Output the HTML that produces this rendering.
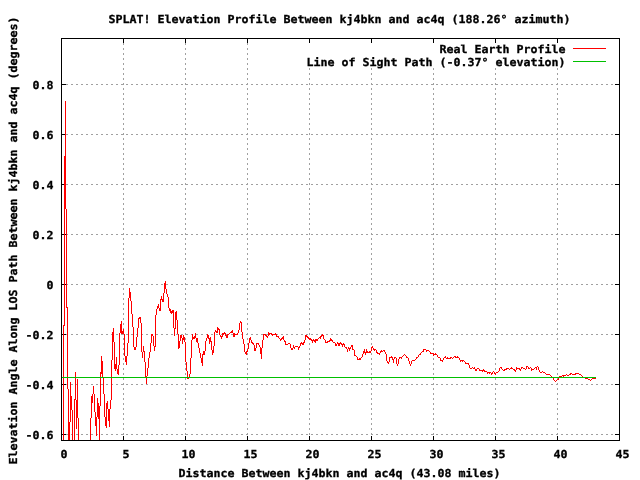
<!DOCTYPE html>
<html lang="en">
<head>
<meta charset="utf-8">
<title>SPLAT! Elevation Profile Between kj4bkn and ac4q</title>
<style>
html,body{margin:0;padding:0;background:#fff;width:640px;height:480px;overflow:hidden}
svg{position:absolute;left:0;top:0;display:block}
text{font-family:"DejaVu Sans Mono", "Liberation Mono", monospace;font-weight:bold;font-size:11.0px;fill:#000;stroke:#000;stroke-width:0.3px;white-space:pre}
.g{stroke:#a0a0a0;stroke-width:1;stroke-dasharray:2 3;fill:none}
.k{stroke:#000;stroke-width:1;fill:none}
.r{stroke:#ff0000;stroke-width:1;fill:none;stroke-linejoin:miter}
.gr{stroke:#00c000;stroke-width:1;fill:none}
</style>
</head>
<body>
<svg width="640" height="480" viewBox="0 0 640 480" shape-rendering="crispEdges">
<rect x="0" y="0" width="640" height="480" fill="#ffffff"/>
<g class="g">
<line x1="123.5" y1="440" x2="123.5" y2="38"/>
<line x1="185.5" y1="440" x2="185.5" y2="38"/>
<line x1="247.5" y1="440" x2="247.5" y2="38"/>
<line x1="309.5" y1="440" x2="309.5" y2="68"/>
<line x1="371.5" y1="440" x2="371.5" y2="68"/>
<line x1="433.5" y1="440" x2="433.5" y2="68"/>
<line x1="495.5" y1="440" x2="495.5" y2="68"/>
<line x1="557.5" y1="440" x2="557.5" y2="68"/>
<line x1="61" y1="84.5" x2="619" y2="84.5"/>
<line x1="61" y1="134.5" x2="619" y2="134.5"/>
<line x1="61" y1="184.5" x2="619" y2="184.5"/>
<line x1="61" y1="234.5" x2="619" y2="234.5"/>
<line x1="61" y1="284.5" x2="619" y2="284.5"/>
<line x1="61" y1="334.5" x2="619" y2="334.5"/>
<line x1="61" y1="384.5" x2="619" y2="384.5"/>
<line x1="61" y1="434.5" x2="619" y2="434.5"/>
</g>
<g class="k">
<line x1="61.5" y1="441" x2="61.5" y2="436"/>
<line x1="61.5" y1="38" x2="61.5" y2="43"/>
<line x1="123.5" y1="441" x2="123.5" y2="436"/>
<line x1="123.5" y1="38" x2="123.5" y2="43"/>
<line x1="185.5" y1="441" x2="185.5" y2="436"/>
<line x1="185.5" y1="38" x2="185.5" y2="43"/>
<line x1="247.5" y1="441" x2="247.5" y2="436"/>
<line x1="247.5" y1="38" x2="247.5" y2="43"/>
<line x1="309.5" y1="441" x2="309.5" y2="436"/>
<line x1="309.5" y1="38" x2="309.5" y2="43"/>
<line x1="371.5" y1="441" x2="371.5" y2="436"/>
<line x1="371.5" y1="38" x2="371.5" y2="43"/>
<line x1="433.5" y1="441" x2="433.5" y2="436"/>
<line x1="433.5" y1="38" x2="433.5" y2="43"/>
<line x1="495.5" y1="441" x2="495.5" y2="436"/>
<line x1="495.5" y1="38" x2="495.5" y2="43"/>
<line x1="557.5" y1="441" x2="557.5" y2="436"/>
<line x1="557.5" y1="38" x2="557.5" y2="43"/>
<line x1="619.5" y1="441" x2="619.5" y2="436"/>
<line x1="619.5" y1="38" x2="619.5" y2="43"/>
<line x1="61" y1="84.5" x2="66" y2="84.5"/>
<line x1="620" y1="84.5" x2="615" y2="84.5"/>
<line x1="61" y1="134.5" x2="66" y2="134.5"/>
<line x1="620" y1="134.5" x2="615" y2="134.5"/>
<line x1="61" y1="184.5" x2="66" y2="184.5"/>
<line x1="620" y1="184.5" x2="615" y2="184.5"/>
<line x1="61" y1="234.5" x2="66" y2="234.5"/>
<line x1="620" y1="234.5" x2="615" y2="234.5"/>
<line x1="61" y1="284.5" x2="66" y2="284.5"/>
<line x1="620" y1="284.5" x2="615" y2="284.5"/>
<line x1="61" y1="334.5" x2="66" y2="334.5"/>
<line x1="620" y1="334.5" x2="615" y2="334.5"/>
<line x1="61" y1="384.5" x2="66" y2="384.5"/>
<line x1="620" y1="384.5" x2="615" y2="384.5"/>
<line x1="61" y1="434.5" x2="66" y2="434.5"/>
<line x1="620" y1="434.5" x2="615" y2="434.5"/>
</g>
<!--CURVE-->
<path class="r" d="M63.5 325V441M64.5 156V326M65.5 101V209M66.5 209V308M67.5 307V389M68.5 389V441M69.5 422V441M70.5 382V422M71.5 396V410M72.5 410V441M74.5 399V441M75.5 372V400M76.5 400V429M77.5 379V418M78.5 418V441M90.5 418V441M91.5 396V418M92.5 394V403M93.5 386V394M94.5 394V412M95.5 412V426M96.5 417V436M97.5 398V417M98.5 403V419M99.5 406V441M100.5 372V406M101.5 356V374M102.5 361V377M103.5 377V394M104.5 394V417M105.5 417V426M106.5 403V428M107.5 401V409M108.5 409V421M109.5 409V427M110.5 400V409M111.5 360V400M112.5 332V360M113.5 328V342M114.5 342V369M115.5 364V371M116.5 357V369M117.5 369V374M118.5 365V375M119.5 333V365M120.5 324V333M121.5 321V334M122.5 331V334M123.5 329V334M124.5 334V356M125.5 356V362M126.5 356V365M127.5 343V356M128.5 298V343M129.5 288V298M130.5 292V301M131.5 301V314M132.5 314V327M133.5 327V347M134.5 347V350M135.5 347V350M136.5 337V347M137.5 328V337M138.5 318V328M139.5 317V319M140.5 317V323M141.5 323V352M142.5 352V358M143.5 346V352M144.5 351V362M145.5 362V377M146.5 376V384M147.5 368V376M148.5 358V368M149.5 352V358M150.5 343V352M151.5 334V343M152.5 334V336M153.5 336V346M154.5 346V351M155.5 315V347M156.5 309V315M157.5 306V309M158.5 304V308M159.5 308V311M160.5 299V311M161.5 296V300M162.5 299V302M163.5 293V302M164.5 283V293M165.5 281V289M166.5 289V294M167.5 294V297M168.5 297V308M169.5 308V311M170.5 309V313M171.5 311V314M172.5 310V313M173.5 310V328M174.5 328V336M175.5 312V329M176.5 311V320M177.5 320V334M178.5 334V349M179.5 341V348M180.5 335V341M181.5 335V338M182.5 338V344M183.5 335V340M184.5 337V342M185.5 342V362M186.5 362V371M187.5 371V379M188.5 377V379M189.5 374V377M190.5 358V374M191.5 340V358M192.5 334V340M193.5 337V339M194.5 336V339M195.5 333V338M196.5 338V342M197.5 338V343M198.5 343V348M199.5 348V353M200.5 353V358M201.5 358V363M202.5 354V366M203.5 351V355M204.5 351V355M205.5 341V351M206.5 338V341M207.5 334V338M208.5 335V339M209.5 338V344M210.5 337V342M211.5 341V350M212.5 350V355M213.5 346V353M214.5 332V346M215.5 330V332M216.5 331V333M217.5 327V333M218.5 328V330M219.5 329V335M220.5 335V337M221.5 336V339M222.5 333V337M223.5 333V335M224.5 332V334M225.5 333V336M226.5 335V338M227.5 334V338M231.5 331V333M232.5 330V333M233.5 333V337M234.5 333V337M237.5 333V335M238.5 330V333M239.5 323V330M240.5 321V323M241.5 322V332M242.5 332V339M243.5 339V344M244.5 344V352M245.5 352V354M246.5 351V355M247.5 349V352M248.5 343V349M249.5 338V343M250.5 337V340M251.5 340V343M252.5 342V344M253.5 343V345M254.5 345V351M255.5 348V351M256.5 343V348M258.5 343V345M259.5 345V347M260.5 347V354M261.5 348V359M262.5 340V348M263.5 334V340M265.5 334V336M266.5 335V337M267.5 336V338M268.5 332V336M269.5 333V335M271.5 333V335M272.5 334V336M275.5 333V335M276.5 334V337M278.5 336V338M280.5 339V341M281.5 338V340M282.5 337V339M283.5 336V340M284.5 340V342M285.5 341V345M290.5 344V348M291.5 348V350M292.5 348V350M293.5 345V348M294.5 347V349M298.5 347V350M299.5 346V348M300.5 343V346M301.5 342V344M302.5 343V345M303.5 342V345M304.5 340V343M305.5 335V340M306.5 335V337M307.5 336V338M308.5 337V339M309.5 338V340M310.5 338V340M311.5 339V341M312.5 340V343M313.5 339V341M314.5 340V342M315.5 339V343M316.5 339V341M317.5 339V341M320.5 336V339M321.5 335V337M322.5 334V336M323.5 335V339M325.5 340V343M327.5 341V343M329.5 340V342M330.5 338V341M331.5 339V341M332.5 340V342M335.5 343V346M336.5 344V346M337.5 342V344M338.5 343V346M339.5 343V346M340.5 342V344M341.5 343V345M342.5 344V347M343.5 343V345M344.5 344V347M346.5 347V349M347.5 349V352M348.5 347V349M349.5 348V351M350.5 347V349M351.5 345V347M352.5 345V350M354.5 350V356M357.5 357V360M359.5 358V360M360.5 358V360M362.5 354V357M363.5 351V354M364.5 349V353M365.5 352V355M366.5 349V353M367.5 351V353M369.5 351V353M370.5 351V353M371.5 347V351M372.5 346V348M373.5 348V350M374.5 349V351M376.5 350V353M377.5 352V354M379.5 353V355M380.5 351V353M381.5 350V352M384.5 350V352M385.5 352V354M386.5 354V361M387.5 361V363M388.5 362V364M389.5 357V362M391.5 356V358M392.5 357V360M393.5 359V363M394.5 357V359M396.5 358V364M397.5 364V366M398.5 359V364M399.5 357V359M401.5 357V359M406.5 356V358M408.5 358V361M409.5 361V364M410.5 364V366M411.5 361V364M416.5 357V359M418.5 355V357M420.5 353V355M423.5 349V352M426.5 350V352M430.5 352V354M433.5 353V356M435.5 353V355M437.5 355V357M440.5 358V361M442.5 360V362M443.5 358V360M445.5 356V358M447.5 357V359M450.5 357V359M455.5 356V358M457.5 356V358M459.5 358V360M460.5 360V362M462.5 360V362M465.5 362V364M468.5 363V365M469.5 365V368M474.5 367V369M475.5 369V371M476.5 369V371M479.5 369V371M482.5 370V372M483.5 369V371M484.5 370V372M487.5 372V374M489.5 372V374M491.5 373V375M492.5 372V374M494.5 372V374M495.5 373V375M499.5 368V371M501.5 367V369M504.5 369V371M506.5 368V370M511.5 367V369M514.5 369V371M515.5 370V372M516.5 367V370M519.5 368V370M520.5 369V371M521.5 367V369M526.5 366V369M528.5 367V369M531.5 368V371M536.5 367V370M538.5 367V370M539.5 370V372M553.5 378V380M558.5 378V380M559.5 376V378M563.5 375V377M570.5 373V375M575.5 373V375M585.5 377V379M230 332.5H231M229 333.5H230M270 333.5H271M228 334.5H229M235 334.5H237M264 334.5H265M273 334.5H275M277 336.5H278M319 337.5H320M279 338.5H280M318 338.5H319M324 339.5H325M328 341.5H329M326 342.5H327M333 342.5H335M257 343.5H258M288 343.5H290M286 344.5H288M295 346.5H298M345 347.5H346M353 349.5H354M375 349.5H376M424 349.5H426M383 350.5H384M427 350.5H429M382 351.5H383M422 351.5H423M429 351.5H430M368 352.5H369M421 352.5H422M378 353.5H379M431 353.5H433M404 354.5H405M419 354.5H420M434 354.5H435M436 354.5H437M355 355.5H356M403 355.5H404M405 355.5H406M356 356.5H357M402 356.5H403M454 356.5H455M361 357.5H362M390 357.5H391M395 357.5H396M400 357.5H401M407 357.5H408M417 357.5H418M438 357.5H440M444 357.5H445M451 357.5H452M453 357.5H454M456 357.5H457M458 357.5H459M446 358.5H447M448 358.5H450M452 358.5H453M358 359.5H359M415 359.5H416M412 360.5H415M441 360.5H442M461 360.5H462M463 360.5H464M464 361.5H465M466 363.5H468M527 366.5H528M537 366.5H538M472 367.5H473M500 367.5H501M522 367.5H523M530 367.5H531M535 367.5H536M470 368.5H472M473 368.5H474M477 368.5H479M507 368.5H509M510 368.5H511M512 368.5H513M517 368.5H519M523 368.5H525M529 368.5H530M534 368.5H535M502 369.5H503M505 369.5H506M509 369.5H510M513 369.5H514M525 369.5H526M532 369.5H534M480 370.5H482M503 370.5H504M485 371.5H487M493 371.5H494M498 371.5H499M542 371.5H543M488 372.5H489M490 372.5H491M496 372.5H498M540 372.5H542M543 372.5H545M545 373.5H546M571 373.5H572M576 373.5H579M546 374.5H550M566 374.5H567M569 374.5H570M572 374.5H575M579 374.5H581M550 375.5H551M562 375.5H563M564 375.5H566M567 375.5H569M581 375.5H582M551 376.5H552M560 376.5H562M582 376.5H583M552 377.5H553M583 377.5H585M586 378.5H588M592 378.5H596M557 379.5H558M588 379.5H590M591 379.5H592M554 380.5H555M556 380.5H557M590 380.5H591M555 381.5H556"/>
<line class="gr" x1="61" y1="377.5" x2="596" y2="377.5"/>
<line class="r" x1="573" y1="48.5" x2="606" y2="48.5"/>
<line class="gr" x1="573" y1="61.5" x2="606" y2="61.5"/>
<rect class="k" x="61.5" y="38.5" width="558" height="402"/>
</svg>
<svg width="640" height="480" viewBox="0 0 640 480" text-rendering="geometricPrecision" style="will-change:transform">
<text x="108.5" y="23" textLength="462" lengthAdjust="spacingAndGlyphs">SPLAT! Elevation Profile Between kj4bkn and ac4q (188.26° azimuth)</text>
<text x="178.5" y="477" textLength="322" lengthAdjust="spacingAndGlyphs">Distance Between kj4bkn and ac4q (43.08 miles)</text>
<text x="-207.5" y="240" textLength="448" lengthAdjust="spacingAndGlyphs" transform="rotate(-90 17 240)">Elevation Angle Along LOS Path Between kj4bkn and ac4q (degrees)</text>
<text x="439.5" y="53" textLength="126" lengthAdjust="spacingAndGlyphs">Real Earth Profile</text>
<text x="306.5" y="66" textLength="259" lengthAdjust="spacingAndGlyphs">Line of Sight Path (-0.37° elevation)</text>
<text x="32.5" y="89" textLength="21" lengthAdjust="spacingAndGlyphs">0.8</text>
<text x="32.5" y="139" textLength="21" lengthAdjust="spacingAndGlyphs">0.6</text>
<text x="32.5" y="189" textLength="21" lengthAdjust="spacingAndGlyphs">0.4</text>
<text x="32.5" y="239" textLength="21" lengthAdjust="spacingAndGlyphs">0.2</text>
<text x="46.5" y="289" textLength="7" lengthAdjust="spacingAndGlyphs">0</text>
<text x="25.5" y="339" textLength="28" lengthAdjust="spacingAndGlyphs">-0.2</text>
<text x="25.5" y="389" textLength="28" lengthAdjust="spacingAndGlyphs">-0.4</text>
<text x="25.5" y="439" textLength="28" lengthAdjust="spacingAndGlyphs">-0.6</text>
<text x="60.5" y="458" textLength="7" lengthAdjust="spacingAndGlyphs">0</text>
<text x="122.5" y="458" textLength="7" lengthAdjust="spacingAndGlyphs">5</text>
<text x="181.5" y="458" textLength="14" lengthAdjust="spacingAndGlyphs">10</text>
<text x="243.5" y="458" textLength="14" lengthAdjust="spacingAndGlyphs">15</text>
<text x="305.5" y="458" textLength="14" lengthAdjust="spacingAndGlyphs">20</text>
<text x="367.5" y="458" textLength="14" lengthAdjust="spacingAndGlyphs">25</text>
<text x="429.5" y="458" textLength="14" lengthAdjust="spacingAndGlyphs">30</text>
<text x="491.5" y="458" textLength="14" lengthAdjust="spacingAndGlyphs">35</text>
<text x="553.5" y="458" textLength="14" lengthAdjust="spacingAndGlyphs">40</text>
<text x="615.5" y="458" textLength="14" lengthAdjust="spacingAndGlyphs">45</text>
</svg>
</body>
</html>
